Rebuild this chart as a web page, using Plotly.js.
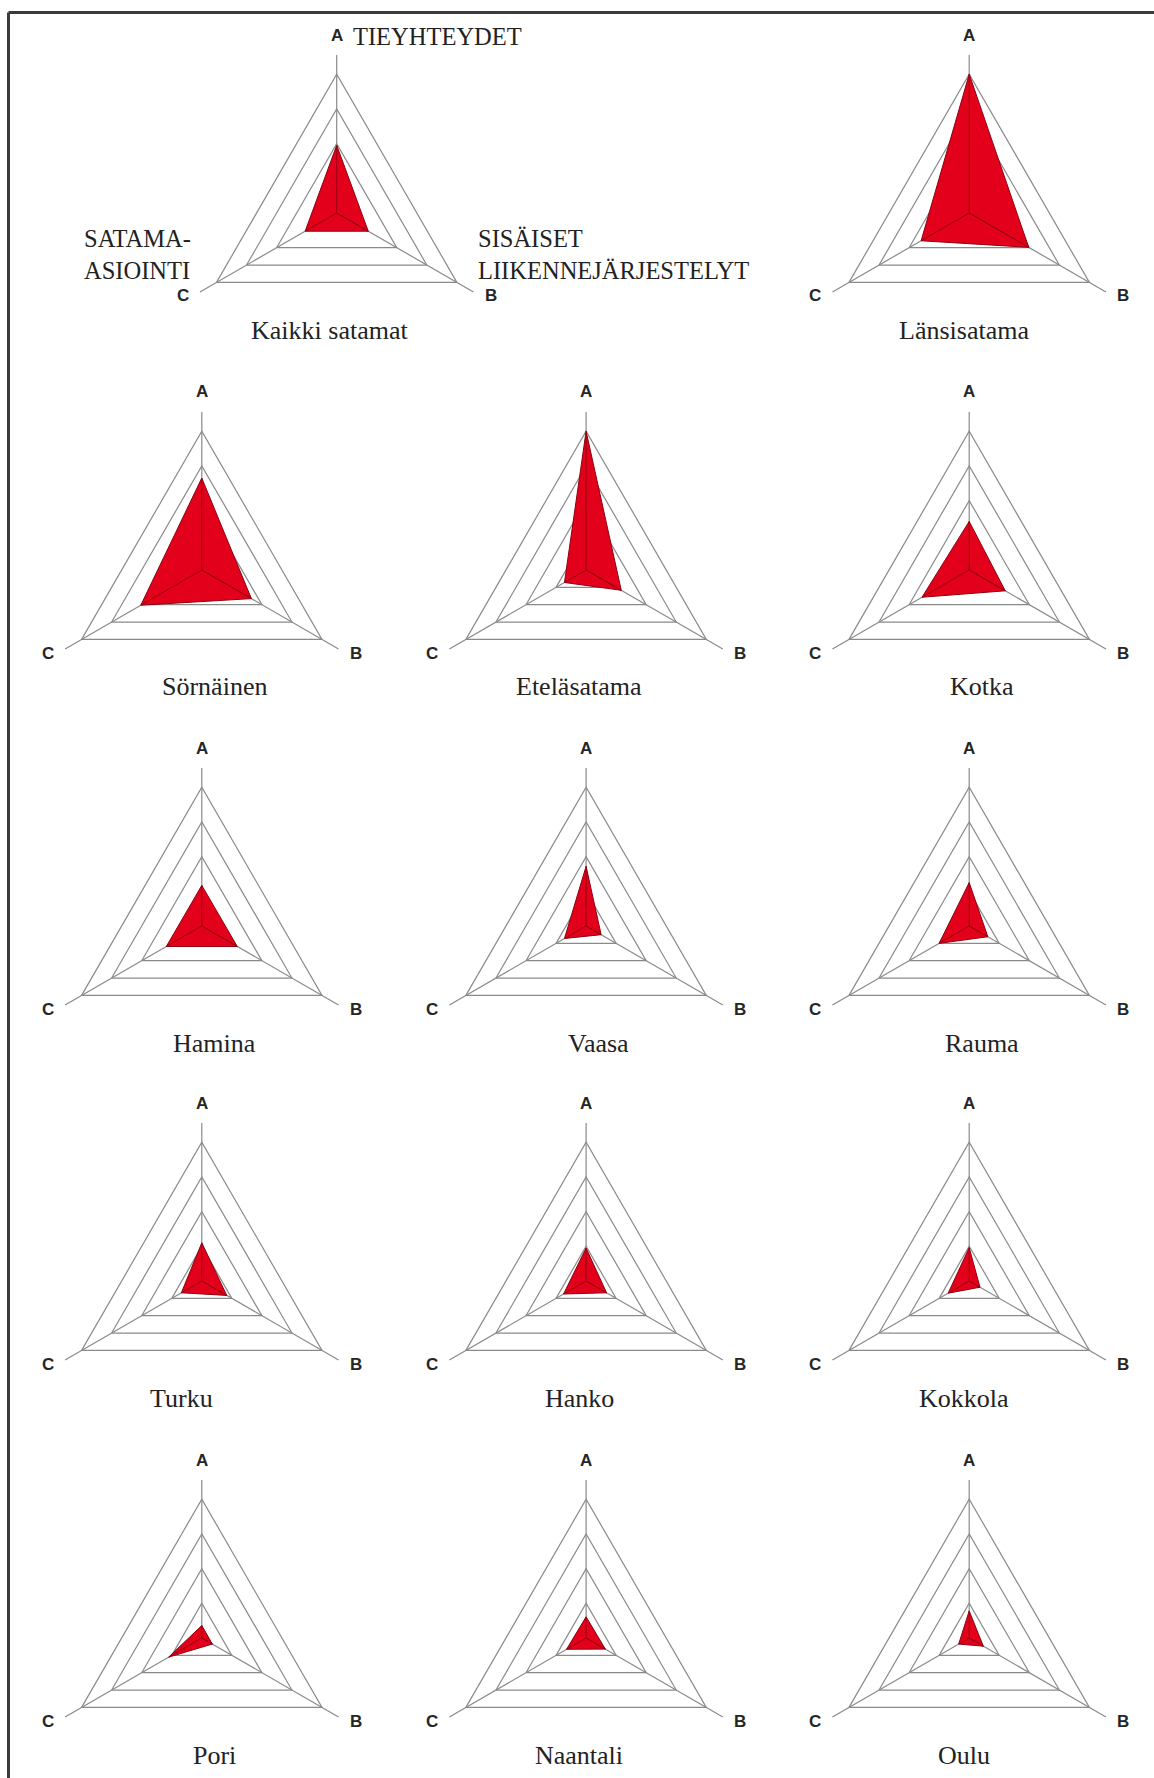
<!DOCTYPE html>
<html>
<head>
<meta charset="utf-8">
<script src="https://cdn.plot.ly/plotly-3.0.1.min.js"></script>
<style>html,body{margin:0;padding:0;background:#fff;overflow:hidden;}#chart{width:1154px;height:1800px;}</style>
</head>
<body>
<div id="chart"></div>
<script>
// ---- data ----
const categories = ['A', 'B', 'C'];
const ports = ['Kaikki satamat', 'Länsisatama', 'Sörnäinen', 'Eteläsatama', 'Kotka',
               'Hamina', 'Vaasa', 'Rauma', 'Turku', 'Hanko', 'Kokkola',
               'Pori', 'Naantali', 'Oulu'];
const valuesA = [1.95, 4.00, 2.65, 4.00, 1.40, 1.17, 1.72, 1.25, 1.10, 0.95, 0.96, 0.36, 0.61, 0.78];
const valuesB = [1.05, 1.98, 1.65, 1.17, 1.20, 1.18, 0.50, 0.62, 0.83, 0.68, 0.36, 0.35, 0.64, 0.47];
const valuesC = [1.05, 1.60, 2.03, 0.72, 1.57, 1.18, 0.72, 1.00, 0.68, 0.75, 0.70, 1.10, 0.65, 0.35];
const gridLevels = [1, 2, 3, 4];
const axisNames = ['TIEYHTEYDET', 'SISÄISET<br>LIIKENNEJÄRJESTELYT', 'SATAMA-<br>ASIOINTI'];

// ---- layout geometry (px) ----
const W = 1154, H = 1800;   // figure slightly taller than the 1778 window so the last row keeps full size
const unitPx = 34.7, rMax = 4.55;
const half = unitPx * rMax;
const colX = [201.8, 586.1, 969.2];
const rowY = [213, 570, 926, 1281, 1638];
const centers = [[336.7, rowY[0]], [colX[2], rowY[0]]];
for (let r = 1; r < 5; r++) for (let c = 0; c < 3; c++) centers.push([colX[c], rowY[r]]);
const titleX = [291, 850, 189, 511, 866, 189, 528, 866, 160, 511, 850, 189, 511, 850].map(v => v * 1.1336);
const titleDy = 117;
// offsets of the axis letters from the chart centre (px)
const labelOffsets = [[0, -178], [154, 83], [-154, 83]];

const px = x => x / W;
const py = y => 1 - y / H;

const data = [];
const layout = {
  width: W, height: H,
  margin: {l: 0, r: 0, t: 0, b: 0},
  paper_bgcolor: '#fff',
  showlegend: false,
  annotations: [],
  shapes: [
    {type: 'line', xref: 'paper', yref: 'paper', x0: px(8.5), x1: px(1160), y0: py(12.5), y1: py(12.5),
     line: {color: '#3c3c3c', width: 3}},
    {type: 'line', xref: 'paper', yref: 'paper', x0: px(8.5), x1: px(8.5), y0: py(12.5), y1: py(1810),
     line: {color: '#3c3c3c', width: 3}}
  ]
};

const letterFont = {family: 'Liberation Sans, Arial, sans-serif', size: 17, weight: 'bold', color: '#262626'};

ports.forEach((name, i) => {
  const key = i === 0 ? 'polar' : 'polar' + (i + 1);
  const [cx, cy] = centers[i];
  layout[key] = {
    domain: {x: [px(cx - half), px(cx + half)], y: [py(cy + half), py(cy - half)]},
    gridshape: 'linear',
    bgcolor: 'rgba(0,0,0,0)',
    radialaxis: {
      range: [0, rMax], tickvals: gridLevels, showticklabels: false, ticks: '',
      showline: false, gridcolor: '#8a8a8a', gridwidth: 1.2
    },
    angularaxis: {
      type: 'category', categoryarray: categories, rotation: 90, direction: 'clockwise',
      showline: false, ticks: '', showticklabels: false,
      gridcolor: '#8a8a8a', gridwidth: 1.2
    }
  };
  const a = valuesA[i], b = valuesB[i], c = valuesC[i];
  data.push({
    type: 'scatterpolar', subplot: key,
    r: [a, b, c, a], theta: [categories[0], categories[1], categories[2], categories[0]],
    mode: 'lines', fill: 'toself', fillcolor: '#e2001a',
    line: {color: '#8e0010', width: 1}, hoverinfo: 'skip'
  });
  data.push({
    type: 'scatterpolar', subplot: key,
    r: [a, 0, b, 0, c], theta: [categories[0], categories[0], categories[1], categories[1], categories[2]],
    mode: 'lines', line: {color: '#9a0012', width: 1}, hoverinfo: 'skip'
  });
  categories.forEach((cat, k) => {
    layout.annotations.push({
      xref: 'paper', yref: 'paper', x: px(cx + labelOffsets[k][0]), y: py(cy + labelOffsets[k][1]),
      text: cat, showarrow: false, xanchor: 'center', yanchor: 'middle', font: letterFont
    });
  });
  layout.annotations.push({
    xref: 'paper', yref: 'paper', x: px(titleX[i]), y: py(cy + titleDy),
    text: name, showarrow: false, xanchor: 'center', yanchor: 'middle',
    font: {family: 'Liberation Serif, Times New Roman, serif', size: 26, color: '#222'}
  });
});

// axis name annotations on the first chart
const nameFont = {family: 'Liberation Serif, Times New Roman, serif', size: 24.5, color: '#222'};
layout.annotations.push({xref: 'paper', yref: 'paper', x: px(351), y: py(36), text: axisNames[0],
  showarrow: false, xanchor: 'left', yanchor: 'middle', font: nameFont});
layout.annotations.push({xref: 'paper', yref: 'paper', x: px(476), y: py(255), text: axisNames[1],
  showarrow: false, xanchor: 'left', yanchor: 'middle', align: 'left', font: nameFont});
layout.annotations.push({xref: 'paper', yref: 'paper', x: px(82), y: py(255), text: axisNames[2],
  showarrow: false, xanchor: 'left', yanchor: 'middle', align: 'left', font: nameFont});

Plotly.newPlot('chart', data, layout, {staticPlot: true});
</script>
</body>
</html>
